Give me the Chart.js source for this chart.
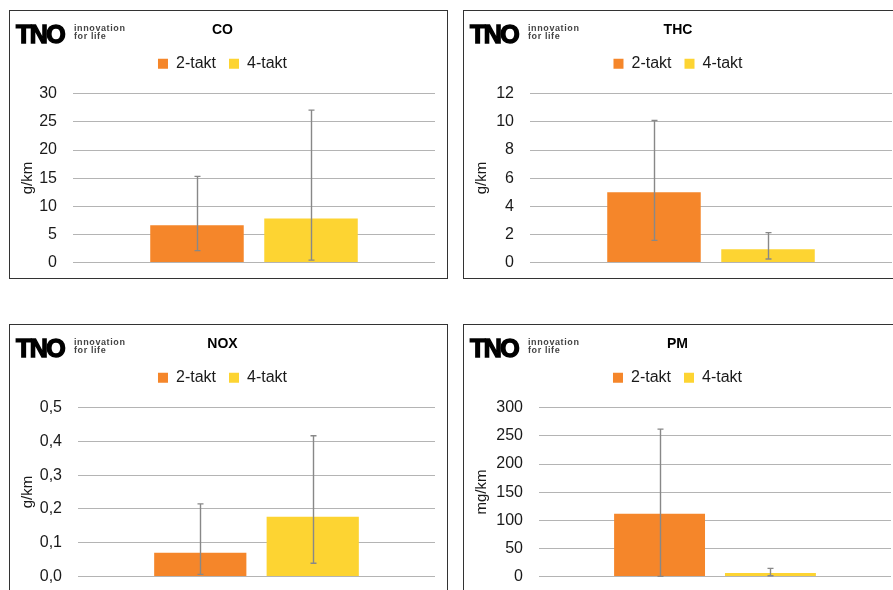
<!DOCTYPE html>
<html>
<head>
<meta charset="utf-8">
<script src="https://cdn.jsdelivr.net/npm/chart.js@4/dist/chart.umd.min.js"></script>
<style>
  html, body { margin: 0; padding: 0; background: #fff; }
  body { width: 893px; height: 590px; overflow: hidden; position: relative; font-family: "Liberation Sans", Arial, sans-serif; }
  .panel { position: absolute; width: 439px; height: 269px; border: 1px solid #333; box-sizing: border-box; background: #fff; }
  .panel canvas { position: absolute; left: 0; top: 0; }
  .logo { position: absolute; left: 6px; top: 12px; height: 20px; filter: blur(0.4px); }
  .logo .tno { position: absolute; left: 0; top: -3px; font: bold 25px "Liberation Sans", Arial, sans-serif; letter-spacing: -1.5px; color: #000; -webkit-text-stroke: 1.4px #000; }
  .logo .tag { position: absolute; left: 58px; top: 1px; font: bold 9px/8px "Liberation Sans", Arial, sans-serif; letter-spacing: 0.6px; color: #444; white-space: nowrap; }
</style>
</head>
<body>

<div class="panel" id="p1" style="left:9px;top:10px;">
  <canvas id="co" width="437" height="267"></canvas>
  <div class="logo"><span class="tno">TNO</span><span class="tag">innovation<br>for life</span></div>
</div>
<div class="panel" id="p2" style="left:463px;top:10px;">
  <canvas id="thc" width="437" height="267"></canvas>
  <div class="logo"><span class="tno">TNO</span><span class="tag">innovation<br>for life</span></div>
</div>
<div class="panel" id="p3" style="left:9px;top:324px;">
  <canvas id="nox" width="437" height="267"></canvas>
  <div class="logo"><span class="tno">TNO</span><span class="tag">innovation<br>for life</span></div>
</div>
<div class="panel" id="p4" style="left:463px;top:324px;">
  <canvas id="pm" width="437" height="267"></canvas>
  <div class="logo"><span class="tno">TNO</span><span class="tag">innovation<br>for life</span></div>
</div>

<script>
const categories = [""];
const seriesNames = ["2-takt", "4-takt"];
const barColors = ["#F5862A", "#FDD432"];

// CO g/km
const coValues = [6.6, 7.8];
const coLow = [2.1, 0.4];
const coHigh = [15.3, 27.1];
const coTicks = ["0", "5", "10", "15", "20", "25", "30"];

// THC g/km
const thcValues = [5.0, 0.93];
const thcLow = [1.57, 0.24];
const thcHigh = [10.1, 2.12];
const thcTicks = ["0", "2", "4", "6", "8", "10", "12"];

// NOX g/km
const noxValues = [0.070, 0.177];
const noxLow = [0.006, 0.039];
const noxHigh = [0.215, 0.417];
const noxTicks = ["0,0", "0,1", "0,2", "0,3", "0,4", "0,5"];

// PM mg/km
const pmValues = [111.6, 6];
const pmLow = [0, 1.2];
const pmHigh = [262, 14.3];
const pmTicks = ["0", "50", "100", "150", "200", "250", "300"];

const FONT = "'Liberation Sans', Arial, sans-serif";

// draws the min/max whiskers on top of each bar
const errorBars = {
  id: "errorBars",
  afterDatasetsDraw(chart, args, opts) {
    const ctx = chart.ctx;
    const y = chart.scales.y;
    ctx.save();
    ctx.strokeStyle = "#888";
    ctx.lineWidth = 1.4;
    chart.data.datasets.forEach((ds, i) => {
      const bar = chart.getDatasetMeta(i).data[0];
      const x = Math.round(bar.x) + 0.5;
      const yLo = y.getPixelForValue(opts.low[i]);
      const yHi = y.getPixelForValue(opts.high[i]);
      ctx.beginPath();
      ctx.moveTo(x, yLo);
      ctx.lineTo(x, yHi);
      ctx.moveTo(x - 3, yLo);
      ctx.lineTo(x + 3, yLo);
      ctx.moveTo(x - 3, yHi);
      ctx.lineTo(x + 3, yHi);
      ctx.stroke();
    });
    ctx.restore();
  },
};

// extra room under the legend
const legendGap = {
  id: "legendGap",
  beforeInit(chart) {
    const fit = chart.legend.fit;
    chart.legend.fit = function () {
      fit.bind(chart.legend)();
      this.height += 12;
    };
  },
};

function makeChart(id, title, unit, values, low, high, ticks, max, step, axisWidth, padRight) {
  return new Chart(document.getElementById(id), {
    type: "bar",
    data: {
      labels: categories,
      datasets: seriesNames.map((name, i) => ({
        label: name,
        data: [values[i]],
        backgroundColor: barColors[i],
        borderWidth: 0,
        categoryPercentage: 0.63,
        barPercentage: 0.82,
      })),
    },
    options: {
      responsive: false,
      animation: false,
      layout: {
        padding: { left: 0, right: padRight, top: 0, bottom: 0 },
      },
      plugins: {
        title: {
          display: true,
          text: title,
          color: "#000",
          font: { family: FONT, size: 14, weight: "bold" },
          padding: { top: 11, bottom: 4 },
        },
        legend: {
          display: true,
          position: "top",
          labels: {
            boxWidth: 10,
            boxHeight: 10,
            padding: 13,
            color: "#1a1a1a",
            font: { family: FONT, size: 16 },
          },
        },
        tooltip: { enabled: false },
        errorBars: { low: low, high: high },
      },
      scales: {
        x: {
          display: false,
        },
        y: {
          min: 0,
          max: max,
          ticks: {
            stepSize: step,
            padding: 6,
            color: "#1a1a1a",
            font: { family: FONT, size: 16 },
            callback: function (value, index) {
              return ticks[index];
            },
          },
          grid: {
            color: "#b4b4b4",
            lineWidth: 1,
            drawTicks: true,
            tickLength: 10,
            tickColor: "rgba(0,0,0,0)",
          },
          border: { display: false },
          title: {
            display: true,
            text: unit,
            color: "#1a1a1a",
            font: { family: FONT, size: 15 },
            padding: { top: 9, bottom: 0 },
          },
          afterFit: function (scale) {
            scale.width = axisWidth;
          },
        },
      },
    },
    plugins: [errorBars, legendGap],
  });
}

makeChart("co", "CO", "g/km", coValues, coLow, coHigh, coTicks, 30, 5, 63, 12);
makeChart("thc", "THC", "g/km", thcValues, thcLow, thcHigh, thcTicks, 12, 2, 66, 9);
makeChart("nox", "NOX", "g/km", noxValues, noxLow, noxHigh, noxTicks, 0.5, 0.1, 68, 12);
makeChart("pm", "PM", "mg/km", pmValues, pmLow, pmHigh, pmTicks, 300, 50, 75, 10);
</script>
</body>
</html>
